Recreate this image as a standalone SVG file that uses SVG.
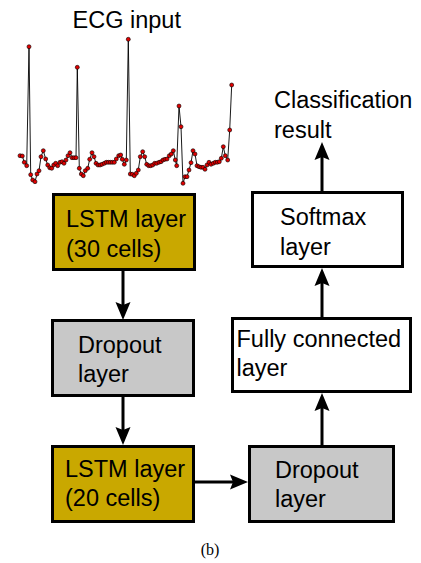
<svg xmlns="http://www.w3.org/2000/svg" width="421" height="563" viewBox="0 0 421 563">
<style>
.box{stroke:#000;stroke-width:3}
.lstm{fill:#C9A800}
.drop{fill:#C8C8C8}
.white{fill:#fff}
.t{font-family:"Liberation Sans",Arial,sans-serif;font-size:23.5px;fill:#000}
.conn{stroke:#000;stroke-width:3;fill:none;marker-end:url(#arr)}
.ecg{fill:none;stroke:#000;stroke-width:0.9;marker-start:url(#dot);marker-mid:url(#dot);marker-end:url(#dot)}
</style>
<defs>
<marker id="arr" viewBox="0 -8 18 16" refX="8" refY="0" markerWidth="18" markerHeight="16" markerUnits="userSpaceOnUse" orient="auto">
<path d="M0,-7.5 L18,0 L0,7.5 L3,0 Z" fill="#000"/>
</marker>
<marker id="dot" viewBox="-3 -3 6 6" refX="0" refY="0" markerWidth="6" markerHeight="6" markerUnits="userSpaceOnUse">
<circle r="2" fill="#e00000" stroke="#000" stroke-width="0.6"/>
</marker>
</defs>
<rect width="421" height="563" fill="#fff"/>

<g id="ecg-input">
<text class="t" x="72.5" y="28">ECG input</text>
<polyline class="ecg" points="20,155.7 22.3,156 24.3,162.3 26.7,165.7 29,46.7 30.7,174.7 32.7,180 35,181.7 37,174 39,170.7 41,156.7 43.3,150.7 45.7,159 47.7,165 49.7,167.7 51.7,168.3 53.7,165 55.7,163.3 57.7,165.7 60,162.3 62,161.7 64,163.3 66,160 68,155.7 70,152.7 72,157.7 74,157.7 76,157.7 77.3,67.3 79.3,168.3 81.3,174 83.3,175.7 85.3,170.7 87.7,168.3 89.7,159.3 92,152.7 94,156.7 96,163.3 98,165 100,165 102,164.3 104.3,163.3 106.3,162.3 108.3,162.3 110.3,162.3 112.3,162.3 114.3,162.3 116.3,159 118.7,155.7 120.7,155 122.3,159.3 124.3,164.3 126.3,160 128.3,39.3 130.3,174 132.3,174.3 134.3,175.7 136.3,173.3 138.3,170 140.3,156.7 142.7,151.7 144.7,156.7 146.7,164.3 148.7,165.7 150.7,165.7 152.7,165 154.7,163.3 156.7,163.3 159,162.3 161,161.7 163,160 165,159.3 167,159 169.3,155.7 171.3,154 173.3,150.7 175.3,160 176.7,165.7 179,106 181,126.7 183,183.3 185,176.7 187,176.7 189,170 191,162.7 193,150.7 195,154 197,165.7 199,166.7 201,167.3 203,167.3 205,169.3 207,165 209,162.3 211,164.3 213.3,163.3 215.3,162.3 217.3,162.3 219.3,161.7 221.3,158.3 223.3,146.7 225.3,155.7 227.7,160 229.7,130 231.7,85"/>
</g>

<g id="lstm1">
<rect class="box lstm" x="53.5" y="194.5" width="141" height="75"/>
<text class="t" x="66" y="227">LSTM layer</text>
<text class="t" x="66" y="257">(30 cells)</text>
</g>

<g id="dropout1">
<rect class="box drop" x="52.5" y="320.5" width="141" height="75"/>
<text class="t" x="78" y="353">Dropout</text>
<text class="t" x="78" y="382">layer</text>
</g>

<g id="lstm2">
<rect class="box lstm" x="52.5" y="446.5" width="141" height="75"/>
<text class="t" x="65" y="477">LSTM layer</text>
<text class="t" x="65" y="506">(20 cells)</text>
</g>

<g id="dropout2">
<rect class="box drop" x="249.5" y="446.5" width="144" height="75"/>
<text class="t" x="275" y="478">Dropout</text>
<text class="t" x="275" y="507">layer</text>
</g>

<g id="fully-connected">
<rect class="box white" x="232.5" y="318.5" width="178" height="73"/>
<text class="t" x="236.5" y="347">Fully connected</text>
<text class="t" x="236.5" y="376">layer</text>
</g>

<g id="softmax">
<rect class="box white" x="252.5" y="192.5" width="150" height="74"/>
<text class="t" x="280" y="225">Softmax</text>
<text class="t" x="280" y="255">layer</text>
</g>

<g id="classification-result">
<text class="t" x="274" y="108">Classification</text>
<text class="t" x="274" y="138">result</text>
</g>

<g id="connectors">
<line class="conn" x1="123" y1="271" x2="123" y2="310"/>
<line class="conn" x1="123" y1="397" x2="123" y2="435"/>
<line class="conn" x1="195" y1="482" x2="238" y2="482"/>
<line class="conn" x1="322" y1="445" x2="322" y2="403"/>
<line class="conn" x1="322" y1="317" x2="322" y2="278"/>
<line class="conn" x1="322" y1="191" x2="322" y2="152"/>
</g>

<text x="210" y="555" text-anchor="middle" font-family="Liberation Serif,'Times New Roman',serif" font-size="16" fill="#000">(b)</text>
</svg>
